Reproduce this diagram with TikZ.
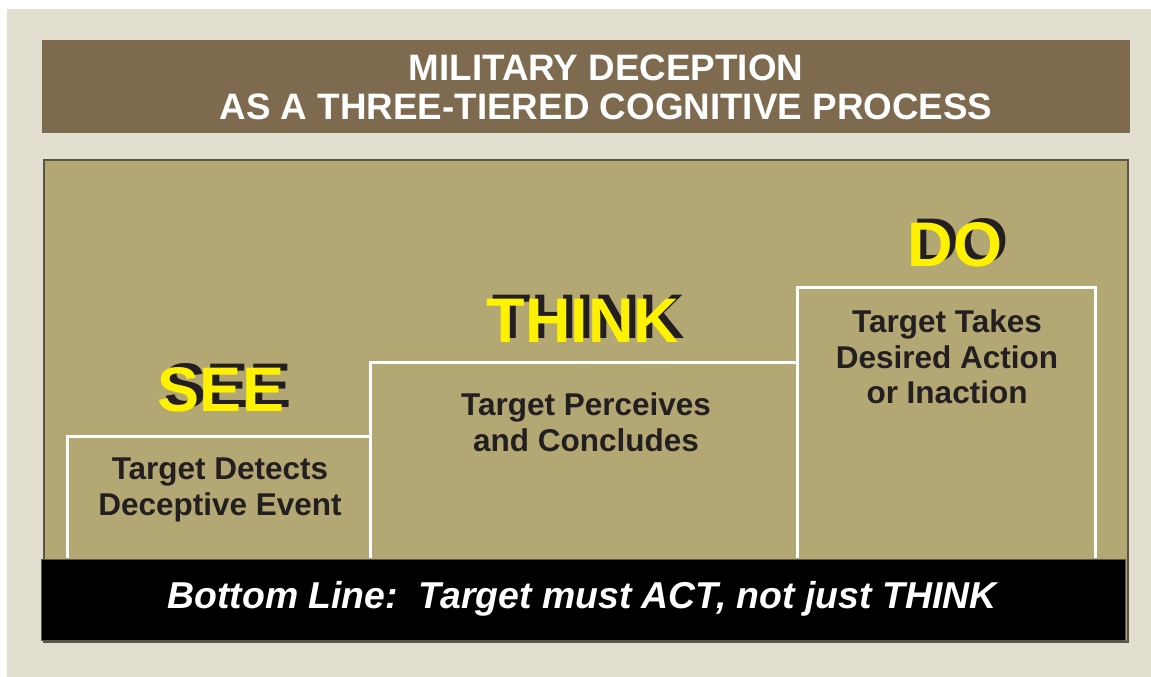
\documentclass[tikz,border=0pt]{standalone}
\usepackage{fontspec}
\setmainfont{Liberation Sans}
\definecolor{bgbeige}{HTML}{E2DFD1}
\definecolor{titlebrown}{HTML}{7E6A4E}
\definecolor{panelolive}{HTML}{B3A773}
\definecolor{panelborder}{HTML}{5A5646}
\definecolor{darktext}{HTML}{231F20}
\definecolor{bigyellow}{HTML}{FFF200}
\tikzset{
  stepline/.style={draw=white, line width=3pt},
  bodytext/.style={text=darktext, font=\bfseries\fontsize{31.5}{35.5}\selectfont, align=center, inner sep=0pt},
  bigword/.style={font=\bfseries\fontsize{63}{63}\selectfont, inner sep=0pt},
  bigshadow/.style={bigword, text=darktext},
  bigfront/.style={bigword, text=bigyellow},
}
\begin{document}
\begin{tikzpicture}[x=1pt,y=-1pt]
\useasboundingbox (0,0) rectangle (1151,677);
\fill[white] (0,0) rectangle (1151,677);
\fill[bgbeige] (7,9) rectangle (1151,677);
% title bar
\fill[titlebrown] (42,40) rectangle (1130,133);
\node[text=white, font=\bfseries\fontsize{36.8}{39}\selectfont, align=center, inner sep=0pt] (title) at (606,87)
  {MILITARY DECEPTION\\AS A THREE-TIERED COGNITIVE PROCESS};
% panel
\draw[panelborder, fill=panelolive, line width=1.5pt] (44,160) rectangle (1128,642);
% steps
\coordinate (s1b) at (67,558);
\coordinate (s1t) at (67,436);
\coordinate (s2t) at (370,436);
\coordinate (s2b) at (370,558);
\coordinate (s2u) at (370,362);
\coordinate (s3t) at (797,362);
\coordinate (s3u) at (797,287);
\coordinate (s3b) at (797,558);
\coordinate (s4t) at (1095,287);
\coordinate (s4b) at (1095,558);
\draw[stepline] (s1b) -- (s1t) -- (s2t);
\draw[stepline] (s2b) -- (s2u) -- (s3t);
\draw[stepline] (s3b) -- (s3u) -- (s4t) -- (s4b);
% big words (black shadow behind yellow)
\node[bigshadow] (seeshadow) at (228,386) {SEE};
\node[bigfront] (see) at (221,390) {SEE};
\node[bigshadow] (thinkshadow) at (589,317) {THINK};
\node[bigfront] (think) at (583,321) {THINK};
\node[bigshadow] (doshadow) at (961,241) {DO};
\node[bigfront] (do) at (955,245) {DO};
% body texts
\node[bodytext] (detects) at (220,490) {Target Detects\\Deceptive Event};
\node[bodytext] (perceives) at (586,422) {Target Perceives\\and Concludes};
\node[bodytext] (takes) at (947,357) {Target Takes\\Desired Action\\or Inaction};
% bottom bar
\draw[fill=black, draw=panelborder, line width=1pt] (41,559) rectangle (1125,640);
\node[text=white, font=\bfseries\itshape\fontsize{37.4}{37}\selectfont, inner sep=0pt] (bottomline) at (582,599)
  {Bottom Line:\ \ Target must ACT, not just THINK};
\end{tikzpicture}
\end{document}
